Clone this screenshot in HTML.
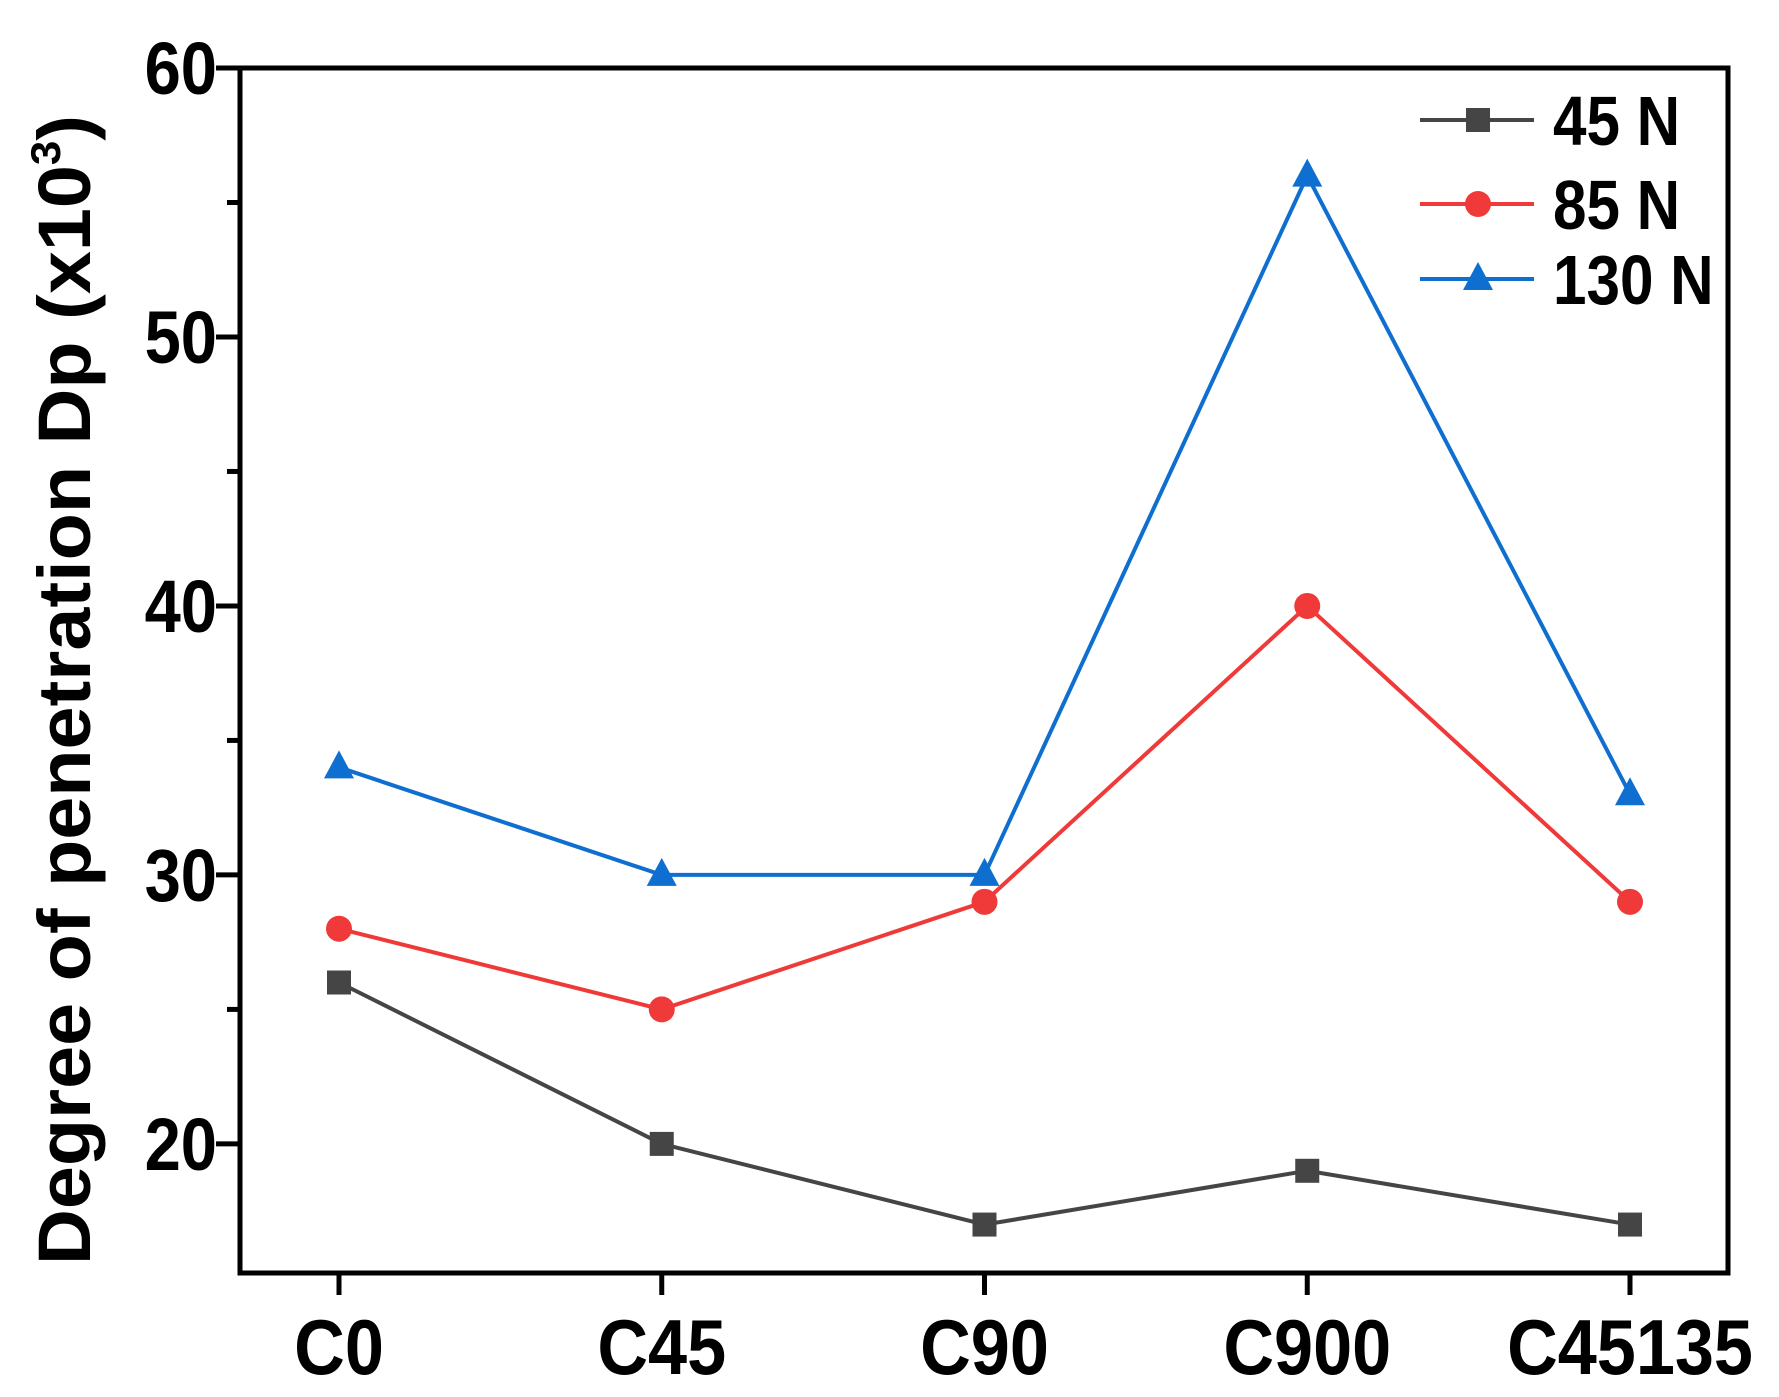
<!DOCTYPE html>
<html><head><meta charset="utf-8"><style>
body{margin:0;background:#fff}
svg{display:block}
text{font-family:"Liberation Sans",Arial,sans-serif;font-weight:bold;fill:#000}
</style></head><body>
<svg id="chart" width="1779" height="1397" viewBox="0 0 1779 1397" xmlns="http://www.w3.org/2000/svg">
<g id="plot"></g>
</svg>
<script>
const categories=["C0","C45","C90","C900","C45135"];
const s45=[26,20,17,19,17];
const s85=[28,25,29,40,29];
const s130=[34,30,30,56,33];
const yTicks=[20,30,40,50,60];
const yMinor=[25,35,45,55];
const seriesNames=["45 N","85 N","130 N"];
const L=240,R=1728,T=68,B=1273,yMin=15.2,yMax=60;
const x0=339,x1=1630;
function xs(i){return x0+i*(x1-x0)/(categories.length-1);}
function ys(v){return B-(v-yMin)/(yMax-yMin)*(B-T);}
const NS="http://www.w3.org/2000/svg";
const g=document.getElementById('plot');
function mk(tag,attrs,parent){const e=document.createElementNS(NS,tag);for(const k in attrs)e.setAttribute(k,attrs[k]);(parent||g).appendChild(e);return e;}
function txt(x,y,size,anchor,sx,s){const e=mk('text',{x:0,y:0,'text-anchor':anchor,'font-size':size,transform:`translate(${x},${y}) scale(${sx},1)`});e.textContent=s;return e;}
let frame=mk('rect',{x:L,y:T,width:R-L,height:B-T,fill:'none',stroke:'#000','stroke-width':5});


yTicks.forEach(v=>{
 const t=mk('line',{x1:L-24,x2:L,y1:ys(v),y2:ys(v),stroke:'#000','stroke-width':5});
 
 
 const tx=txt(217,ys(v)+26,74,'end',0.88,v);
 
 
});
yMinor.forEach(v=>{
 const t=mk('line',{x1:L-13,x2:L,y1:ys(v),y2:ys(v),stroke:'#000','stroke-width':5});
 
 
});
categories.forEach((c,i)=>{
 const t=mk('line',{x1:xs(i),x2:xs(i),y1:B,y2:B+22,stroke:'#000','stroke-width':5});
 
 
 const tx=txt(xs(i),1374,78,'middle',0.9,c);
 
 
});
const yt=mk('text',{x:0,y:0,'text-anchor':'middle','font-size':74,textLength:1150,lengthAdjust:'spacingAndGlyphs',transform:'translate(90,690) rotate(-90)'});
yt.innerHTML='Degree of penetration Dp (x10<tspan font-size="42" dy="-30">3</tspan><tspan dy="30">)</tspan>';


const series=[[s45,'#454545','square'],[s85,'#f03a3a','circle'],[s130,'#0f6fd0','triangle']];
function marker(shape,x,y,col){
 if(shape==='square')return mk('rect',{x:x-12,y:y-12,width:24,height:24,fill:col});
 if(shape==='circle')return mk('circle',{cx:x,cy:y,r:13,fill:col});
 return mk('polygon',{points:`${x},${y-17} ${x-15},${y+11} ${x+15},${y+11}`,fill:col});
}
series.forEach((s,k)=>{
 const [vals,col,shape]=s;
 const pl=mk('polyline',{points:vals.map((v,i)=>xs(i)+','+ys(v)).join(' '),fill:'none',stroke:col,'stroke-width':4});
 
 
 vals.forEach((v,i)=>{
  const m=marker(shape,xs(i),ys(v),col);
  
  
 });
 const ly=[120,204,279][k];
 const ll=mk('line',{x1:1420,x2:1534,y1:ly,y2:ly,stroke:col,'stroke-width':4});
 
 
 const lm=marker(shape,1478,ly,col);
 
 
 const lt=txt(1553,ly+25,70,'start',0.86,seriesNames[k]);
 
 
});
</script>
</body></html>
